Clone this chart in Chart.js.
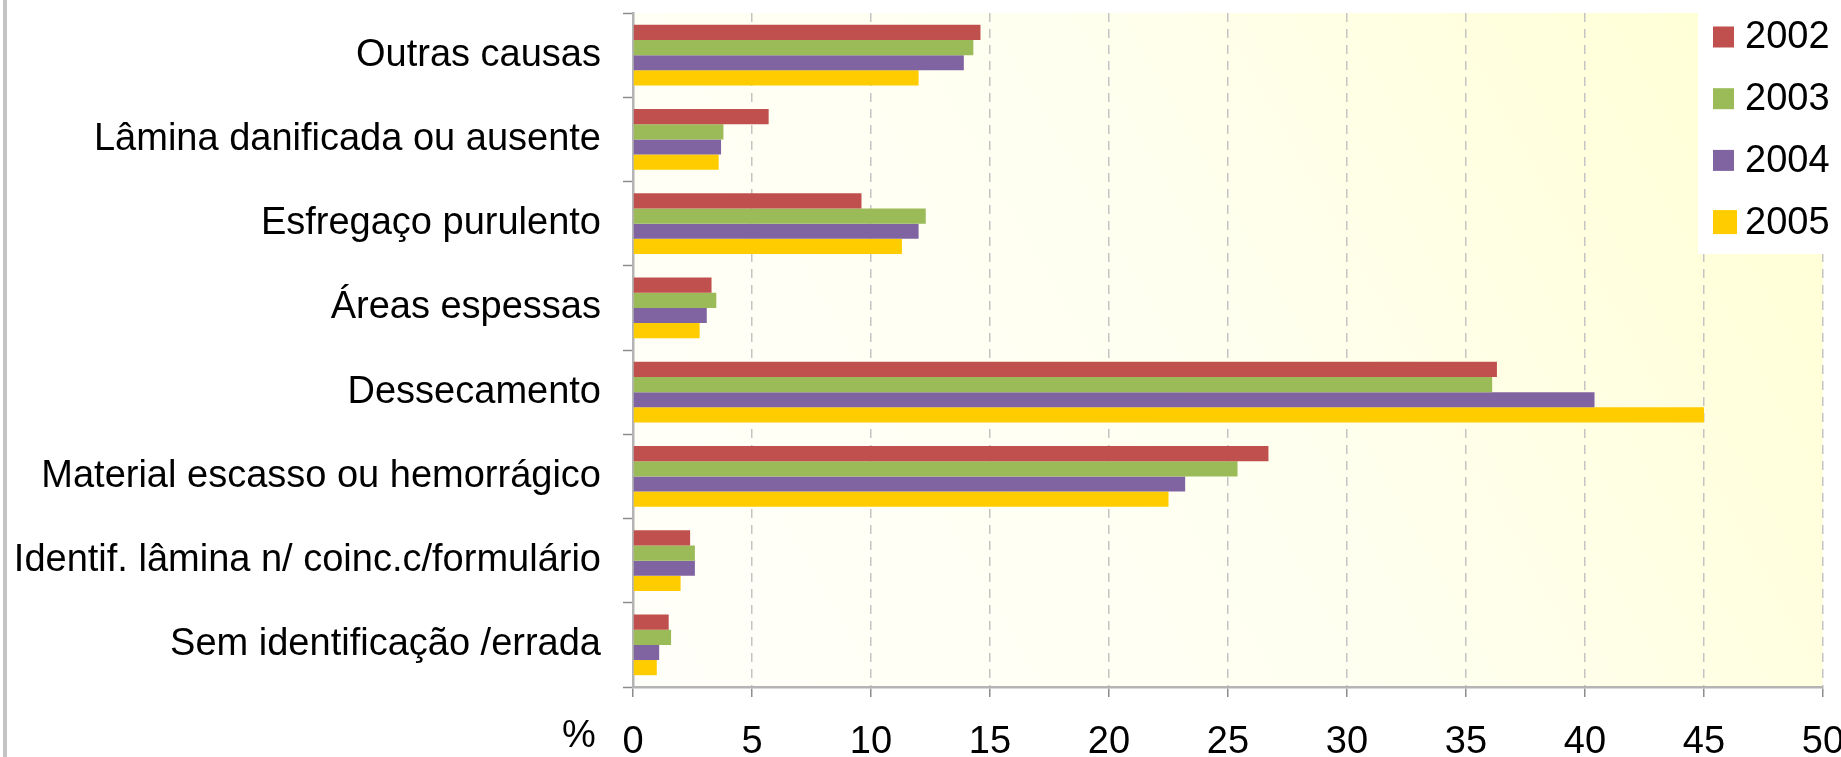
<!DOCTYPE html>
<html>
<head>
<meta charset="utf-8">
<script src="https://cdn.jsdelivr.net/npm/chart.js@4"></script>
<style>
    html, body { margin: 0; padding: 0; background: #fff; overflow: hidden; }
    #wrap { position: relative; width: 1841px; height: 757px; }
    #edge { position: absolute; left: 3px; top: 0; width: 4px; height: 757px; background: #c4c4c4; }
</style>
</head>
<body>
<div id="wrap">
    <canvas id="chart" width="1841" height="757"></canvas>
    <div id="edge"></div>
</div>
<script>
// categories, top to bottom
const categories = [
    'Outras causas',
    'Lâmina danificada ou ausente',
    'Esfregaço purulento',
    'Áreas espessas',
    'Dessecamento',
    'Material escasso ou hemorrágico',
    'Identif. lâmina n/ coinc.c/formulário',
    'Sem identificação /errada'
];

const years = ['2002', '2003', '2004', '2005'];

// % per year
const v2002 = [14.6, 5.7, 9.6, 3.3, 36.3, 26.7, 2.4, 1.5];
const v2003 = [14.3, 3.8, 12.3, 3.5, 36.1, 25.4, 2.6, 1.6];
const v2004 = [13.9, 3.7, 12.0, 3.1, 40.4, 23.2, 2.6, 1.1];
const v2005 = [12.0, 3.6, 11.3, 2.8, 45.0, 22.5, 2.0, 1.0];

const xTicks = [0, 5, 10, 15, 20, 25, 30, 35, 40, 45, 50];
const axisUnit = '%';

const colors = ['#C0504D', '#9BBB59', '#8064A2', '#FFCC00'];
const FONT = '"Liberation Sans", Arial, Helvetica, sans-serif';

// plot background gradient
const plotBg = {
    id: 'plotBg',
    beforeDraw(chart) {
        const { ctx, chartArea: a } = chart;
        const g = ctx.createLinearGradient(a.left, a.bottom, a.right, a.top);
        g.addColorStop(0, '#fffff9');
        g.addColorStop(0.5, '#fffff0');
        g.addColorStop(1, '#ffffd2');
        ctx.save();
        ctx.fillStyle = g;
        ctx.fillRect(a.left, a.top, a.right - a.left, a.bottom - a.top);
        ctx.restore();
    }
};

// legend box over the plot + % label
const overlay = {
    id: 'overlay',
    afterDraw(chart) {
        const { ctx, chartArea: a } = chart;
        ctx.save();
        const bx = a.right - 125;
        ctx.fillStyle = '#ffffff';
        ctx.fillRect(bx, a.top, chart.width - bx, 241);
        ctx.font = '38px ' + FONT;
        ctx.textBaseline = 'middle';
        ctx.textAlign = 'left';
        chart.data.datasets.forEach((ds, i) => {
            const cy = a.top + 24 + i * 61.7;
            const sz = i === 3 ? 24 : 21;
            ctx.fillStyle = ds.backgroundColor;
            ctx.fillRect(bx + 15, cy - sz / 2, sz, sz);
            ctx.fillStyle = '#000';
            ctx.fillText(ds.label, bx + 47, cy + 1);
        });
        ctx.textAlign = 'center';
        ctx.fillText(axisUnit, a.left - 54, a.bottom + 50);
        ctx.restore();
    }
};

const ctx = document.getElementById('chart').getContext('2d');
new Chart(ctx, {
    type: 'bar',
    data: {
        labels: categories,
        datasets: [v2002, v2003, v2004, v2005].map((vals, i) => ({
            label: years[i],
            data: vals,
            backgroundColor: colors[i],
            borderWidth: 0,
            categoryPercentage: 0.72,
            barPercentage: 1.0
        }))
    },
    options: {
        indexAxis: 'y',
        responsive: false,
        animation: false,
        layout: { padding: { top: 13, left: 8, right: 0, bottom: 0 } },
        plugins: {
            legend: { display: false },
            tooltip: { enabled: false }
        },
        scales: {
            x: {
                min: 0,
                max: 50,
                afterBuildTicks: (s) => { s.ticks = xTicks.map(v => ({ value: v })); },
                afterFit: (s) => { s.height = 70; s.paddingRight = 18; },
                ticks: {
                    color: '#000',
                    font: { family: FONT, size: 38, lineHeight: 1.0 },
                    padding: 27,
                    maxRotation: 0
                },
                grid: {
                    color: '#c4c4c4',
                    lineWidth: 1.5,
                    tickColor: '#8c8c8c',
                    tickLength: 10,
                    tickWidth: 1.5
                },
                border: { color: '#b4b4b4', width: 2.5, dash: [9, 7] }
            },
            y: {
                afterFit: (s) => { s.width = 625; s.paddingTop = 0; s.paddingBottom = 0; },
                ticks: {
                    color: '#000',
                    font: { family: FONT, size: 38 },
                    padding: 22
                },
                grid: {
                    drawOnChartArea: false,
                    tickColor: '#8c8c8c',
                    tickLength: 10,
                    tickWidth: 1.5
                },
                border: { color: '#b4b4b4', width: 2.5 }
            }
        }
    },
    plugins: [plotBg, overlay]
});
</script>
</body>
</html>
